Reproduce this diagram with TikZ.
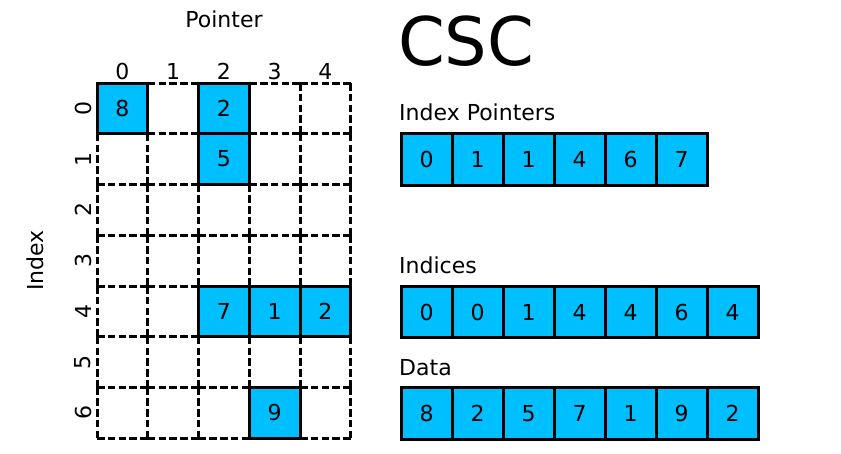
\documentclass[tikz,border=0pt]{standalone}
\usepackage{fontspec}
\setmainfont{DejaVu Sans}
\definecolor{cscblue}{RGB}{0,191,255}

\begin{document}
\begin{tikzpicture}[
  x=1pt, y=-1pt, line cap=butt, line join=miter,
  lbl/.style={inner sep=0pt, font=\fontsize{22}{25}\selectfont},
  cell/.style={minimum size=50.75pt, inner sep=0pt, outer sep=0pt},
  gridedge/.style={line width=3pt, dash pattern=on 7.6pt off 3.19pt},
  val/.style={draw, line width=3pt, fill=cscblue, minimum size=50.75pt,
              inner sep=0pt, outer sep=0pt, font=\fontsize{22}{25}\selectfont},
  arr/.style={val, minimum width=51pt, minimum height=51.7pt}
]
  \useasboundingbox (0,0) rectangle (841,453);

  % ── Dense matrix (7 x 5) ─────────────────────────────────────────────────

  \node[lbl, anchor=base] (ptr) at (224, 27.3) {Pointer};
  \node[lbl, rotate=90] (idx) at (35, 260.5) {Index};

  \foreach \r in {0,...,6}
    \foreach \c in {0,...,4} {
      \node[cell] (m-\r-\c) at ({97+50.75*\c+25.375}, {83+50.75*\r+25.375}) {};
      \draw[gridedge] (m-\r-\c.north west) -- (m-\r-\c.north east);
      \draw[gridedge] (m-\r-\c.north east) -- (m-\r-\c.south east);
      \draw[gridedge] (m-\r-\c.south west) -- (m-\r-\c.south east);
      \draw[gridedge] (m-\r-\c.north west) -- (m-\r-\c.south west);
    }

  % column / row numbers
  \foreach \c in {0,...,4}
    \node[lbl] (col-\c) at ({97+50.75*\c+25.375}, 71.7) {\c};
  \foreach \r in {0,...,6}
    \node[lbl, rotate=90] (row-\r) at (83, {83+50.75*\r+25.375}) {\r};

  % non-zero entries
  \foreach \r/\c/\v in {0/0/8, 0/2/2, 1/2/5, 4/2/7, 4/3/1, 4/4/2, 6/3/9}
    \node[val] (v-\r-\c) at (m-\r-\c) {\v};

  % ── CSC arrays ───────────────────────────────────────────────────────────

  \node[inner sep=0pt, anchor=base west, font=\fontsize{67}{70}\selectfont]
      (title) at (398, 65) {CSC};

  \node[lbl, anchor=base west] (ipl) at (399, 120.7) {Index Pointers};
  \foreach \v [count=\i from 0] in {0,1,1,4,6,7}
    \node[arr] (ip-\i) at ({401+51*\i+25.5}, 159.2) {\v};

  \node[lbl, anchor=base west] (inl) at (399, 273.3) {Indices};
  \foreach \v [count=\i from 0] in {0,0,1,4,4,6,4}
    \node[arr] (in-\i) at ({401+51*\i+25.5}, 312) {\v};

  \node[lbl, anchor=base west] (dal) at (399, 375) {Data};
  \foreach \v [count=\i from 0] in {8,2,5,7,1,9,2}
    \node[arr] (da-\i) at ({401+51*\i+25.5}, 413.7) {\v};

\end{tikzpicture}
\end{document}
